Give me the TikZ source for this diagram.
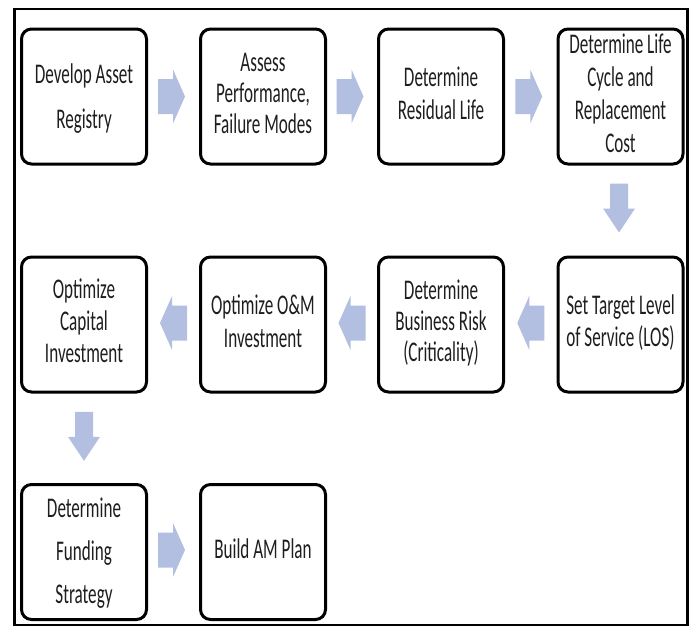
\documentclass[tikz,border=0pt]{standalone}
\usepackage{fontspec}
\setmainfont[FakeStretch=0.6]{Carlito}
\usetikzlibrary{calc}
\definecolor{arrfill}{RGB}{178,191,224}
\definecolor{txt}{RGB}{30,30,30}
\newcommand\nolsk{\lineskiplimit=-50pt\relax}
\begin{document}
\begin{tikzpicture}[x=1pt,y=-1pt,
  stepbox/.style={draw=black, line width=3pt, rounded corners=10pt,
    minimum width=125pt, minimum height=135pt, inner sep=0pt, fill=white,
    align=center, text=txt},
  ls/.style={font=\fontsize{28.5}{#1}\selectfont},
  pics/rarr/.style={code={\fill[arrfill] (-13.5,-17.5) -- (1.5,-17.5) -- (1.5,-27) -- (13.5,0) -- (1.5,27) -- (1.5,17.5) -- (-13.5,17.5) -- cycle;}},
  pics/larr/.style={code={\fill[arrfill] (13.5,-17.5) -- (-1.5,-17.5) -- (-1.5,-27) -- (-13.5,0) -- (-1.5,27) -- (-1.5,17.5) -- (13.5,17.5) -- cycle;}},
  pics/darr/.style={code={\fill[arrfill] (-9,-24.5) -- (9,-24.5) -- (9,0.5) -- (16,0.5) -- (0,24.5) -- (-16,0.5) -- (-9,0.5) -- cycle;}},
]
\useasboundingbox (0,0) rectangle (691,635);
\draw[line width=2.7pt] (14.5,9) rectangle (687.5,625);

\node[stepbox, ls=45] (b1) at (84,96.5) {\nolsk\strut Develop Asset\\\strut Registry};
\node[stepbox, ls=31] (b2) at (263,96.5) {\nolsk\strut Assess\\\strut Performance,\\\strut Failure Modes};
\node[stepbox, ls=33] (b3) at (441,96.5) {\nolsk\strut Determine\\\strut Residual Life};
\node[stepbox, ls=33] (b4) at (620.5,96.5) {\nolsk\strut Determine Life\\\strut Cycle and\\\strut Replacement\\\strut Cost};
\node[stepbox, ls=32] (b5) at (620.5,324.5) {\nolsk\strut Set Target Level\\\strut of Service (LOS)};
\node[stepbox, ls=31] (b6) at (441,324.5) {\nolsk\strut Determine\\\strut Business Risk\\\strut (Criticality)};
\node[stepbox, ls=33] (b7) at (263,324.5) {\nolsk\strut Optimize O\&M\\\strut Investment};
\node[stepbox, ls=32] (b8) at (84,324.5) {\nolsk\strut Optimize\\\strut Capital\\\strut Investment};
\node[stepbox, ls=43] (b9) at (84,552) {\nolsk\strut Determine\\\strut Funding\\\strut Strategy};
\node[stepbox, ls=31] (b10) at (263,552) {\nolsk\strut Build AM Plan};

\pic[xshift=-2pt] at ($(b1.east)!0.5!(b2.west)$) {rarr};
\pic[xshift=-2pt] at ($(b2.east)!0.5!(b3.west)$) {rarr};
\pic[xshift=-2pt] at ($(b3.east)!0.5!(b4.west)$) {rarr};
\pic[xshift=-1.5pt, yshift=2.5pt] at ($(b4.south)!0.5!(b5.north)$) {darr};
\pic[yshift=1.5pt] at ($(b5.west)!0.5!(b6.east)$) {larr};
\pic[yshift=1.5pt] at ($(b6.west)!0.5!(b7.east)$) {larr};
\pic[yshift=1.5pt] at ($(b7.west)!0.5!(b8.east)$) {larr};
\pic[yshift=2pt] at ($(b8.south)!0.5!(b9.north)$) {darr};
\pic[xshift=-2pt, yshift=2pt] at ($(b9.east)!0.5!(b10.west)$) {rarr};
\end{tikzpicture}
\end{document}
